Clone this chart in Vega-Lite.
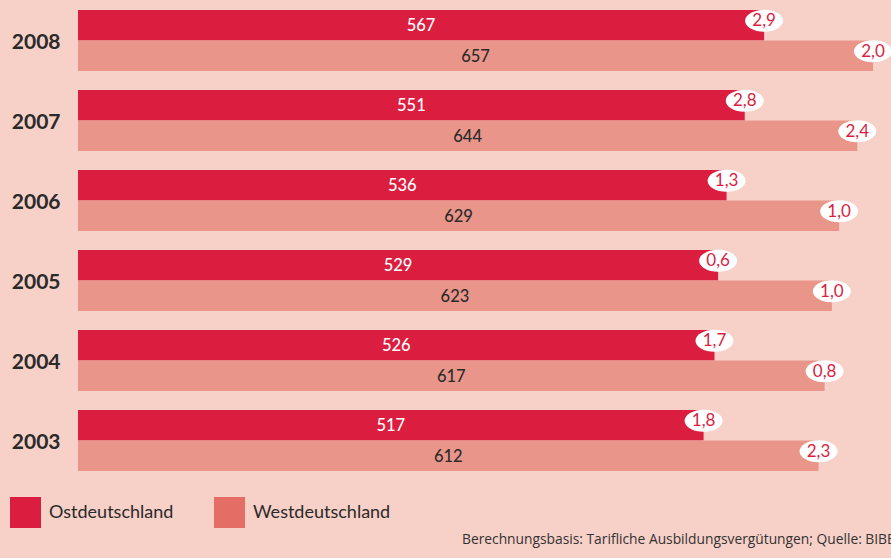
{
  "$schema": "https://vega.github.io/schema/vega-lite/v6.json",
  "autosize": {"type": "none"},
  "width": 795,
  "height": 461,
  "padding": {"left": 78, "top": 10, "right": 18, "bottom": 87},
  "background": "#F7D0C7",
  "config": {"view": {"stroke": null}, "font": "Lato"},
  "title": {
    "text": "Berechnungsbasis: Tarifliche Ausbildungsvergütungen; Quelle: BIBB",
    "orient": "bottom",
    "anchor": "start",
    "dx": 452,
    "offset": 5,
    "fontSize": 13.8,
    "fontWeight": "normal",
    "font": "Open Sans",
    "color": "#333333",
    "baseline": "top"
  },
  "data": {
    "values": [
      {"year": "2008", "region": "Ostdeutschland", "value": 567, "change": "2,9"},
      {"year": "2008", "region": "Westdeutschland", "value": 657, "change": "2,0"},
      {"year": "2007", "region": "Ostdeutschland", "value": 551, "change": "2,8"},
      {"year": "2007", "region": "Westdeutschland", "value": 644, "change": "2,4"},
      {"year": "2006", "region": "Ostdeutschland", "value": 536, "change": "1,3"},
      {"year": "2006", "region": "Westdeutschland", "value": 629, "change": "1,0"},
      {"year": "2005", "region": "Ostdeutschland", "value": 529, "change": "0,6"},
      {"year": "2005", "region": "Westdeutschland", "value": 623, "change": "1,0"},
      {"year": "2004", "region": "Ostdeutschland", "value": 526, "change": "1,7"},
      {"year": "2004", "region": "Westdeutschland", "value": 617, "change": "0,8"},
      {"year": "2003", "region": "Ostdeutschland", "value": 517, "change": "1,8"},
      {"year": "2003", "region": "Westdeutschland", "value": 612, "change": "2,3"}
    ]
  },
  "encoding": {
    "y": {
      "field": "year", "type": "nominal", "sort": "descending",
      "scale": {"paddingInner": 0.2375, "paddingOuter": 0},
      "axis": {
        "title": null, "domain": false, "ticks": false, "labelPadding": 18,
        "labelFont": "Lato", "labelFontWeight": "bold", "labelFontSize": 21,
        "labelColor": "#2a2a2a", "labelAlign": "right", "labelOffset": 2
      }
    },
    "yOffset": {
      "field": "region", "type": "nominal",
      "sort": ["Ostdeutschland", "Westdeutschland"],
      "scale": {"paddingInner": 0, "paddingOuter": 0}
    }
  },
  "layer": [
    {
      "mark": {"type": "bar"},
      "encoding": {
        "x": {"field": "value", "type": "quantitative", "scale": {"domain": [0, 657], "nice": false}, "axis": null},
        "color": {
          "field": "region", "type": "nominal",
          "scale": {"domain": ["Ostdeutschland", "Westdeutschland"], "range": ["#DB1E3F", "#E9958A"]},
          "legend": null
        }
      }
    },
    {
      "mark": {"type": "point", "filled": true, "opacity": 0, "shape": "square"},
      "encoding": {
        "x": {"field": "value", "type": "quantitative", "scale": {"domain": [0, 657], "nice": false}, "axis": null},
        "color": {
          "field": "region", "type": "nominal",
          "scale": {"domain": ["Ostdeutschland", "Westdeutschland"], "range": ["#DB1E3F", "#E46D66"]},
          "legend": {
            "title": null, "orient": "none", "legendX": -68, "legendY": 487,
            "direction": "horizontal", "columns": 2, "columnPadding": 40,
            "padding": 0, "symbolType": "square", "symbolSize": 961,
            "symbolStrokeWidth": 0, "symbolOpacity": 1,
            "labelFont": "Lato", "labelFontSize": 18, "labelColor": "#2a2a2a",
            "labelOffset": 8, "labelLimit": 300
          }
        }
      }
    },
    {
      "mark": {"type": "text", "fontSize": 16.5, "font": "Lato", "fontWeight": 500, "baseline": "middle", "dy": 1},
      "encoding": {
        "x": {"field": "value", "type": "quantitative", "scale": {"domain": [0, 1314], "nice": false}, "axis": null},
        "text": {"field": "value", "type": "quantitative"},
        "color": {"condition": {"test": "datum.region === 'Ostdeutschland'", "value": "#ffffff"}, "value": "#2b2b2b"}
      }
    },
    {
      "mark": {"type": "point", "filled": true, "fill": "#ffffff", "opacity": 1, "strokeWidth": 0,
        "shape": "M-1,-0.24A1,0.58,0,1,1,1,-0.24A1,0.58,0,1,1,-1,-0.24Z", "size": 1444},
      "encoding": {
        "x": {"field": "value", "type": "quantitative", "scale": {"domain": [0, 657], "nice": false}, "axis": null}
      }
    },
    {
      "mark": {"type": "text", "fontSize": 17, "font": "Lato", "baseline": "middle", "dy": -4, "color": "#DB1E3F"},
      "encoding": {
        "x": {"field": "value", "type": "quantitative", "scale": {"domain": [0, 657], "nice": false}, "axis": null},
        "text": {"field": "change", "type": "nominal"}
      }
    }
  ],
  "resolve": {"scale": {"x": "independent", "color": "independent"}, "legend": {"color": "independent"}}
}
